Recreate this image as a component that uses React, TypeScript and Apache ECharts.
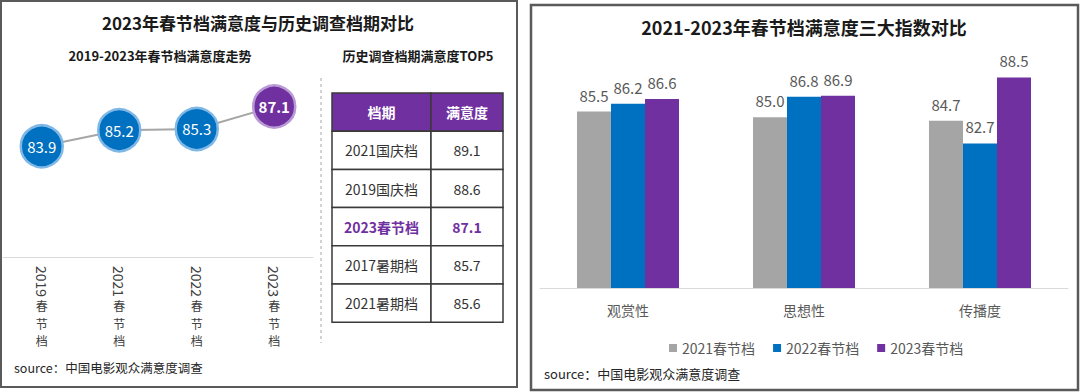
import React, { useEffect, useRef } from "react";
import * as echarts from "echarts";

const FONT = '"Noto Sans CJK SC", "Noto Sans", sans-serif';

// Left: trend
const trendCategories = ["2019春节档", "2021春节档", "2022春节档", "2023春节档"];
const trendValues = [83.9, 85.2, 85.3, 87.1];

// Left: TOP5 table
const tableHeader = ["档期", "满意度"];
const tablePeriods = ["2021国庆档", "2019国庆档", "2023春节档", "2017暑期档", "2021暑期档"];
const tableScores = [89.1, 88.6, 87.1, 85.7, 85.6];
const highlightPeriod = "2023春节档";

// Right: three indices
const indexCategories = ["观赏性", "思想性", "传播度"];
const seriesNames = ["2021春节档", "2022春节档", "2023春节档"];
const values2021 = [85.5, 85.0, 84.7];
const values2022 = [86.2, 86.8, 82.7];
const values2023 = [86.6, 86.9, 88.5];

const GRAY = "#A5A5A5";
const BLUE = "#0070C0";
const PURPLE = "#7030A0";

export default function App() {
  const ref = useRef<HTMLDivElement>(null);

  useEffect(() => {
    if (!ref.current) return;
    const chart = echarts.init(ref.current, null, { renderer: "svg" });

    const graphics: any[] = [];
    // panel borders
    graphics.push({
      type: "rect",
      shape: { x: 1, y: 1, width: 516, height: 386 },
      style: { fill: "none", stroke: "#5a5a5a", lineWidth: 2 },
      z: 1,
    });
    graphics.push({
      type: "rect",
      shape: { x: 531, y: 5, width: 547, height: 385 },
      style: { fill: "none", stroke: "#5a5a5a", lineWidth: 2.5 },
      z: 1,
    });
    const txt = (x: number, y: number, text: string, size: number, weight: any, color: string, align = "center") => ({
      type: "text",
      x,
      y,
      style: {
        text,
        fontSize: size,
        fontWeight: weight,
        fill: color,
        fontFamily: FONT,
        align,
        verticalAlign: "middle",
      },
      z: 10,
    });
    graphics.push(txt(258, 22, "2023年春节档满意度与历史调查档期对比", 17, "bold", "#1a1a1a"));
    graphics.push(txt(160, 55, "2019-2023年春节档满意度走势", 13, "bold", "#1a1a1a"));
    graphics.push(txt(418, 55, "历史调查档期满意度TOP5", 13, "bold", "#1a1a1a"));
    graphics.push(txt(804, 27, "2021-2023年春节档满意度三大指数对比", 18, "bold", "#1a1a1a"));
    graphics.push(txt(14, 367, "source：中国电影观众满意度调查", 12.5, "normal", "#262626", "left"));
    graphics.push(txt(544, 373, "source：中国电影观众满意度调查", 13, "normal", "#262626", "left"));

    // dashed separator
    graphics.push({
      type: "line",
      shape: { x1: 321, y1: 78, x2: 321, y2: 343 },
      style: { stroke: "#A6A6A6", lineWidth: 1, lineDash: [3, 3] },
      z: 2,
    });

    // table
    const tx0 = 332, tx1 = 431, tx2 = 503, ty0 = 93, rh = 38.2;
    const rows = [tableHeader, ...tablePeriods.map((p, i) => [p, tableScores[i].toFixed(1)])];
    rows.forEach((row, r) => {
      const y = ty0 + r * rh;
      const isHeader = r === 0;
      const isHl = row[0] === highlightPeriod;
      [0, 1].forEach((c) => {
        const x = c === 0 ? tx0 : tx1;
        const w = c === 0 ? tx1 - tx0 : tx2 - tx1;
        graphics.push({
          type: "rect",
          shape: { x, y, width: w, height: rh },
          style: { fill: isHeader ? PURPLE : "#ffffff", stroke: "#3a3a3a", lineWidth: 1.5 },
          z: 3,
        });
        graphics.push(
          txt(
            x + w / 2,
            y + rh / 2,
            row[c],
            14,
            isHeader || isHl ? "bold" : "normal",
            isHeader ? "#ffffff" : isHl ? PURPLE : "#333333"
          )
        );
      });
    });

    const option: any = {
      animation: false,
      backgroundColor: "#ffffff",
      textStyle: { fontFamily: FONT },
      grid: [
        { left: 3, right: 1080 - 313, top: 70.5, bottom: 392 - 257 },
        { left: 540, right: 1080 - 1068, top: 60.4, bottom: 392 - 288 },
      ],
      xAxis: [
        {
          type: "category",
          gridIndex: 0,
          data: trendCategories,
          position: "bottom",
          axisLine: { lineStyle: { color: "#D9D9D9", width: 1 } },
          axisTick: { show: false },
          axisLabel: {
            rotate: -90,
            margin: 9,
            fontSize: 14,
            color: "#404040",
            fontFamily: FONT,
            formatter: (v: string) => v.slice(0, 4),
          },
        },
        {
          type: "category",
          gridIndex: 0,
          data: trendCategories,
          position: "bottom",
          offset: 0,
          axisLine: { show: false },
          axisTick: { show: false },
          axisLabel: {
            margin: 40,
            fontSize: 12,
            lineHeight: 17.5,
            color: "#404040",
            fontFamily: FONT,
            formatter: (v: string) => v.slice(4).split("").join("\n"),
          },
        },
        {
          type: "category",
          gridIndex: 1,
          data: indexCategories,
          axisLine: { lineStyle: { color: "#D9D9D9", width: 1 } },
          axisTick: { show: false },
          axisLabel: { margin: 15, fontSize: 14, color: "#595959", fontFamily: FONT },
        },
      ],
      yAxis: [
        { type: "value", gridIndex: 0, min: 75, max: 90, show: false, splitLine: { show: false } },
        { type: "value", gridIndex: 1, min: 70, max: 90, show: false, splitLine: { show: false } },
      ],
      legend: {
        data: seriesNames,
        left: 664,
        top: 336,
        icon: "rect",
        itemWidth: 8,
        itemHeight: 8,
        itemGap: 18,
        textStyle: { fontSize: 14, color: "#595959", fontFamily: FONT },
      },
      series: [
        {
          type: "line",
          xAxisIndex: 0,
          yAxisIndex: 0,
          data: trendValues.map((v, i) => {
            const last = i === trendValues.length - 1;
            return {
              value: v,
              itemStyle: {
                color: last ? PURPLE : BLUE,
                borderColor: last ? "#B99AD6" : "#7FB8E6",
                borderWidth: 2.5,
              },
              label: { fontWeight: last ? "bold" : "normal" },
            };
          }),
          symbol: "circle",
          symbolSize: 42,
          lineStyle: { color: "#A6A6A6", width: 2 },
          label: {
            show: true,
            position: "inside",
            color: "#ffffff",
            fontSize: 15,
            fontFamily: FONT,
            formatter: (p: any) => Number(p.value).toFixed(1),
          },
          z: 5,
        },
        ...[values2021, values2022, values2023].map((vals, i) => ({
          type: "bar",
          name: seriesNames[i],
          xAxisIndex: 2,
          yAxisIndex: 1,
          data: vals,
          barWidth: 34,
          barGap: "0%",
          itemStyle: { color: [GRAY, BLUE, PURPLE][i] },
          label: {
            show: true,
            position: "top",
            distance: 9,
            fontSize: 15,
            color: "#595959",
            fontFamily: FONT,
            formatter: (p: any) => Number(p.value).toFixed(1),
          },
        })),
      ],
      graphic: graphics,
    };

    chart.setOption(option);
    return () => chart.dispose();
  }, []);

  return (
    <div
      ref={ref}
      style={{ position: "absolute", left: 0, top: 0, width: 1080, height: 392, background: "#fff" }}
    />
  );
}
